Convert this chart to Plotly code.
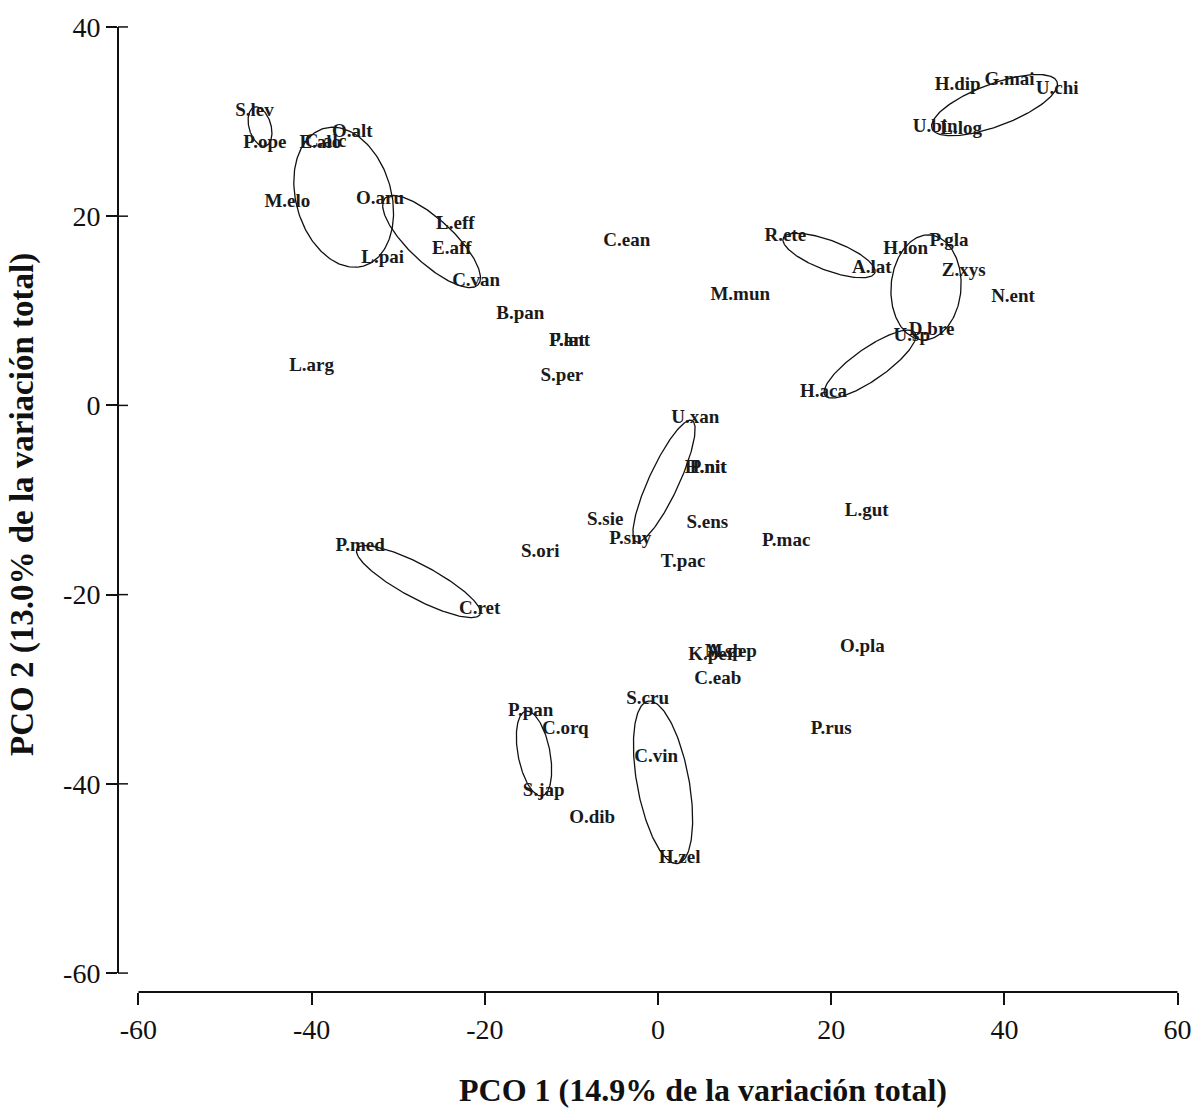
import numpy as np
import plotly.graph_objects as go

# Species labels and their PCO scores
species = [
    "S.lev", "P.ope", "O.alt", "E.alo", "C.alc", "M.elo", "O.aru", "L.eff", "E.aff",
    "L.pai", "C.van", "B.pan", "C.ean", "P.lat", "F.ant", "S.per", "L.arg", "M.mun",
    "H.dip", "G.mai", "U.chi", "U.bin", "L.log", "R.ete", "A.lat", "H.lon", "P.gla",
    "Z.xys", "N.ent", "D.bre", "U.sp", "H.aca", "U.xan", "H.nit", "P.nit", "S.sie",
    "P.sny", "S.ens", "T.pac", "S.ori", "P.mac", "L.gut", "P.med", "C.ret", "K.per",
    "A.sp", "M.dep", "C.eab", "O.pla", "S.cru", "P.pan", "C.orq", "C.vin", "S.jap",
    "O.dib", "H.zel", "P.rus",
]
pco1 = [
    -46.6, -45.4, -35.3, -39.0, -38.4, -42.8, -32.1, -23.4, -23.8,
    -31.8, -21.0, -15.9, -3.6, -10.5, -10.2, -11.1, -40.0, 9.5,
    34.6, 40.6, 46.1, 32.0, 35.0, 14.7, 24.7, 28.6, 33.6,
    35.3, 41.0, 31.6, 29.3, 19.1, 4.3, 5.5, 5.8, -6.1,
    -3.2, 5.7, 2.9, -13.6, 14.8, 24.1, -34.4, -20.6, 6.2,
    7.7, 8.4, 6.9, 23.6, -1.2, -14.7, -10.7, -0.2, -13.2,
    -7.6, 2.5, 20.0,
]
pco2 = [
    31.1, 27.7, 28.9, 27.7, 27.8, 21.5, 21.8, 19.1, 16.5,
    15.6, 13.1, 9.6, 17.3, 6.8, 6.8, 3.1, 4.1, 11.6,
    33.8, 34.4, 33.4, 29.4, 29.2, 17.9, 14.5, 16.5, 17.3,
    14.2, 11.4, 7.9, 7.3, 1.4, -1.4, -6.6, -6.6, -12.1,
    -14.1, -12.5, -16.6, -15.5, -14.4, -11.2, -14.9, -21.5, -26.4,
    -26.1, -26.1, -28.9, -25.6, -31.1, -32.3, -34.2, -37.2, -40.8,
    -43.6, -47.9, -34.2,
]

# Grouping ellipses: centre (PCO1, PCO2), semi-axes in PCO1 units, rotation in degrees
ell_cx = [-45.96, -36.3, -26.15, 19.75, 30.95, 24.48, 38.86, 0.69, -27.66, -14.32, 0.58]
ell_cy = [29.47, 22.0, 17.32, 15.84, 12.47, 4.37, 31.74, -8.00, -18.63, -36.79, -39.84]
ell_a = [2.34, 8.3, 7.35, 5.66, 6.10, 6.35, 7.71, 7.74, 8.06, 4.99, 9.57]
ell_b = [1.27, 5.5, 2.54, 1.73, 4.04, 1.85, 2.45, 1.73, 1.96, 1.85, 3.00]
ell_ang = [105.8, -74.0, -43.0, -20.8, 85.6, 35.0, 20.6, 65.3, -28.2, 100.7, 100.4]

x_ticks = [-60, -40, -20, 0, 20, 40, 60]
y_ticks = [-60, -40, -20, 0, 20, 40]

# plot-area geometry (pixels) and the resulting axis ranges
L, R, T, B = 118, 22, 22, 122
W, H = 1204, 1114
x_range = [-62.36, 60.51]
y_range = [-62.0, 40.1]
px_per_x = (W - L - R) / (x_range[1] - x_range[0])
px_per_y = (H - T - B) / (y_range[1] - y_range[0])
k = px_per_y / px_per_x  # aspect factor so ellipses are round in screen space

serif = "Liberation Serif, Times New Roman, serif"

fig = go.Figure()

t = np.linspace(0, 2 * np.pi, 200)
for cx, cy, a, b, ang in zip(ell_cx, ell_cy, ell_a, ell_b, ell_ang):
    th = np.deg2rad(ang)
    u = a * np.cos(t) * np.cos(th) - b * np.sin(t) * np.sin(th)
    v = a * np.cos(t) * np.sin(th) + b * np.sin(t) * np.cos(th)
    fig.add_trace(go.Scatter(
        x=cx + u, y=cy + v / k, mode="lines",
        line=dict(color="#111111", width=1.3),
        hoverinfo="skip", showlegend=False,
    ))

fig.add_trace(go.Scatter(
    x=pco1, y=pco2, mode="text", text=species,
    textposition="middle center",
    textfont=dict(family=serif, size=19, color="#1a1a1a", weight="bold"),
    showlegend=False,
))

shapes = []
# detached axis lines
shapes.append(dict(type="line", xref="x", yref="paper", x0=-60, x1=60, y0=0, y1=0,
                   line=dict(color="#111111", width=2)))
shapes.append(dict(type="line", xref="paper", yref="y", x0=0, x1=0, y0=-60, y1=40,
                   line=dict(color="#111111", width=2)))
# inner halves of the y ticks
for yt in y_ticks:
    shapes.append(dict(type="line", xref="paper", yref="y", xsizemode="pixel", xanchor=0,
                       x0=0, x1=10, y0=yt, y1=yt, line=dict(color="#111111", width=1.5)))

fig.update_layout(
    width=W, height=H,
    margin=dict(l=L, r=R, t=T, b=B),
    paper_bgcolor="white", plot_bgcolor="white",
    shapes=shapes,
    xaxis=dict(range=x_range, tickvals=x_ticks, ticktext=[str(v) for v in x_ticks],
               ticks="outside", ticklen=12,
               tickwidth=1.5, tickcolor="#111111", showline=False, showgrid=False,
               zeroline=False, tickfont=dict(family=serif, size=28, color="#111111")),
    yaxis=dict(range=y_range, tickvals=y_ticks, ticktext=[str(v) for v in y_ticks],
               ticks="outside", ticklen=11,
               tickwidth=1.5, tickcolor="#111111", showline=False, showgrid=False,
               zeroline=False, tickfont=dict(family=serif, size=28, color="#111111")),
    annotations=[
        dict(text="PCO 1 (14.9% de la variación total)", xref="paper", yref="paper",
             x=(703 - L) / (W - L - R), y=-0.101, showarrow=False,
             xanchor="center", yanchor="middle",
             font=dict(family=serif, size=32, color="#111111", weight="bold")),
        dict(text="PCO 2 (13.0% de la variación total)", xref="paper", yref="paper",
             x=(22 - L) / (W - L - R), y=(H - B - 503) / (H - T - B), textangle=-90,
             showarrow=False, xanchor="center", yanchor="middle",
             font=dict(family=serif, size=33, color="#111111", weight="bold")),
    ],
)

fig.write_html("out.html")
